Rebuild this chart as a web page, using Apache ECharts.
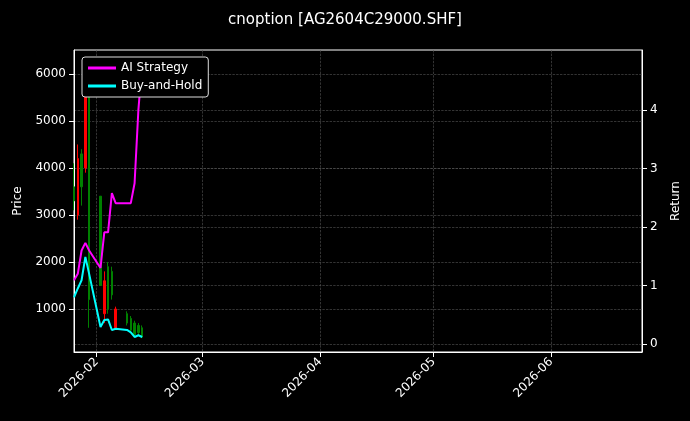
<html>
<head>
<meta charset="utf-8">
<script src="https://cdn.jsdelivr.net/npm/echarts@6/dist/echarts.min.js"></script>
<style>html,body,#main{width:100%;height:100%;margin:0;background:#000;}</style>
</head>
<body>
<div id="main"></div>
<script>
var dates = ['2026-01-26','2026-01-27','2026-01-28','2026-01-29','2026-01-30','2026-02-02','2026-02-03','2026-02-04','2026-02-05','2026-02-06','2026-02-09','2026-02-10','2026-02-11','2026-02-12','2026-02-13'];
var opens  = [3600,3000,4300,4000,5600,3400, 900,1900,1800, 600, 900, 800, 700, 650, 600];
var closes = [3300,4200,3600,5600,1200,1500,1600,1000,1300,1000, 700, 550, 450, 500, 400];
var lows   = [3100,2900,3200,3900, 600,1500, 700, 900,1200, 600, 650, 500, 400, 450, 380];
var highs  = [4100,4500,4400,6200,6000,3400,1800,2000,1900,1050, 950, 850, 750, 700, 650];
var aiReturn  = [1.09,1.2,1.6,1.73,1.6,1.3,1.91,1.91,2.58,2.41,2.41,2.41,2.75,4.0,4.8];
var bhReturn  = [0.80,0.95,1.09,1.49,1.2,0.29,0.41,0.42,0.24,0.26,0.24,0.2,0.12,0.15,0.12];
var monthTicks = ['2026-02-01','2026-03-01','2026-04-01','2026-05-01','2026-06-01'];
var priceTicks = [1000, 2000, 3000, 4000, 5000, 6000];
var returnTicks = [0, 1, 2, 3, 4];

function toTime(d) { return +new Date(d + 'T00:00:00'); }
var candles = dates.map(function (d, i) { return [toTime(d), opens[i], closes[i], lows[i], highs[i]]; });
var tickVals = monthTicks.map(toTime);
var grid = { lineStyle: { color: '#555', type: 'dashed', width: 0.6 } };

var myChart = echarts.init(document.getElementById('main'));
myChart.setOption({
    backgroundColor: '#000',
    animation: false,
    textStyle: { fontFamily: 'DejaVu Sans' },
    title: { text: 'cnoption [AG2604C29000.SHF]', left: 'center', top: 8,
        textStyle: { color: '#fff', fontSize: 15, fontWeight: 'normal' } },
    legend: {
        left: 82, top: 57, orient: 'vertical', itemGap: 6,
        borderColor: '#ddd', borderWidth: 1, borderRadius: 3, padding: [5, 6],
        backgroundColor: '#000', itemWidth: 28, itemHeight: 3, icon: 'rect',
        textStyle: { color: '#fff', fontSize: 12 },
        data: ['AI Strategy', 'Buy-and-Hold']
    },
    grid: { left: 74, right: 48, top: 50, bottom: 69, show: true, borderColor: '#fff', borderWidth: 1 },
    xAxis: {
        type: 'value', min: toTime('2026-01-26'), max: toTime('2026-06-25'),
        axisLine: { onZero: false, lineStyle: { color: '#fff' } },
        axisTick: { customValues: tickVals, lineStyle: { color: '#fff' } },
        axisLabel: { customValues: tickVals, rotate: 45, color: '#fff', fontSize: 12,
            formatter: function (v) {
                var d = new Date(v);
                var m = d.getMonth() + 1;
                return d.getFullYear() + '-' + (m < 10 ? '0' + m : m);
            } },
        splitLine: Object.assign({ show: true }, grid)
    },
    yAxis: [
        { type: 'value', name: 'Price', nameLocation: 'middle', nameGap: 50, min: 85, max: 6510,
          nameTextStyle: { color: '#fff', fontSize: 12 },
          axisLine: { show: true, lineStyle: { color: '#fff' } },
          axisTick: { show: true, customValues: priceTicks },
          axisLabel: { color: '#fff', fontSize: 12, customValues: priceTicks, formatter: function (v) { return String(v); } },
          splitLine: grid },
        { type: 'value', name: 'Return', nameLocation: 'middle', nameGap: 28, min: -0.137, max: 5.03,
          nameTextStyle: { color: '#fff', fontSize: 12 },
          axisLine: { show: true, lineStyle: { color: '#fff' } },
          axisTick: { show: true, customValues: returnTicks },
          axisLabel: { color: '#fff', fontSize: 12, customValues: returnTicks, formatter: function (v) { return String(v); } },
          splitLine: grid }
    ],
    series: [
        { name: 'Price', type: 'candlestick', data: candles, barMaxWidth: 2,
          itemStyle: { color: '#ff0000', color0: '#008000', borderColor: '#ff0000', borderColor0: '#008000', borderWidth: 1 } },
        { name: 'AI Strategy', type: 'line', yAxisIndex: 1, showSymbol: false, color: '#ff00ff',
          lineStyle: { width: 2 }, data: dates.map(function (d, i) { return [toTime(d), aiReturn[i]]; }) },
        { name: 'Buy-and-Hold', type: 'line', yAxisIndex: 1, showSymbol: false, color: '#00ffff',
          lineStyle: { width: 2 }, data: dates.map(function (d, i) { return [toTime(d), bhReturn[i]]; }) }
    ]
});
</script>
</body>
</html>
